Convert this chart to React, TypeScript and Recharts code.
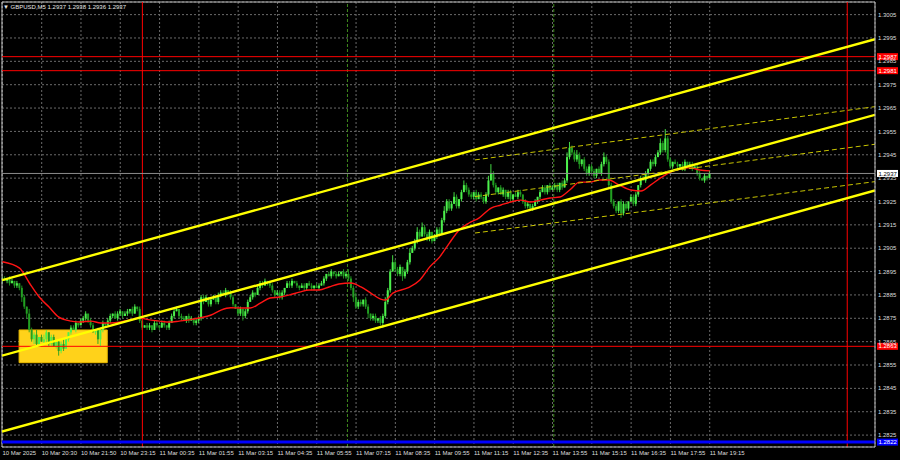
import {
  Bar,
  CartesianGrid,
  ComposedChart,
  Line,
  ReferenceArea,
  ReferenceLine,
  XAxis,
  YAxis,
} from "recharts";

// prices are kept in pips above 1.2800
const BASE = 1.28;

const firstOpen = 91;
const closes = [
  92, 91, 92, 90, 91, 89, 90, 88, 84, 80,
  77, 70, 66, 68, 64, 67, 65, 66, 69, 64,
  67, 63, 65, 61, 64, 62, 66, 69, 71, 70,
  73, 72, 74, 75, 77, 74, 72, 69, 70, 66,
  70, 73, 72, 74, 76, 77, 75, 77, 78, 76,
  77, 78, 79, 77, 80, 79, 74, 71, 72, 71,
  72, 70, 73, 72, 71, 73, 72, 71, 73, 76,
  78, 79, 76, 75, 74, 76, 74, 75, 73, 74,
  75, 84, 82, 84, 81, 83, 84, 82, 85, 86,
  85, 87, 86, 84, 81, 79, 77, 79, 76, 78,
  82, 84, 86, 85, 88, 90, 89, 91, 90, 89,
  87, 85, 86, 84, 86, 88, 90, 89, 91, 90,
  89, 88, 89, 88, 90, 89, 88, 89, 88, 89,
  90, 92, 94, 93, 95, 94, 93, 94, 95, 93,
  94, 92, 88, 84, 80, 82, 81, 83, 80, 77,
  75, 76, 74, 75, 73, 76, 82, 87, 95, 99,
  96, 94, 97, 93, 95, 99, 103, 105, 108, 112,
  110, 114, 111, 109, 112, 108, 110, 113, 111, 117,
  121, 125, 122, 124, 127, 123, 126, 129, 132, 130,
  128, 127, 129, 126, 128, 127, 125, 128, 134, 137,
  132, 129, 131, 128, 130, 127, 129, 126, 128, 127,
  129, 128, 125, 123, 124, 122, 123, 125, 127, 129,
  131, 129, 132, 130, 131, 132, 130, 133, 131, 134,
  144, 148, 146, 143, 145, 141, 143, 139, 137, 140,
  138, 136, 139, 137, 141, 144, 142, 132, 125, 123,
  121, 125, 120, 124, 122, 125, 127, 124, 128, 132,
  135, 134, 137, 139, 142, 141, 144, 146, 150, 147,
  152, 143, 140, 142, 141, 140, 141, 139, 142, 140,
  141, 139, 140, 137, 135, 134, 136, 135, 137,
];

const wickUp = [
  1, 1, 0, 1, 1, 0, 1, 0, 1, 1,
  0, 2, 1, 1, 2, 0, 1, 2, 1, 0,
  1, 1, 0, 1, 1, 2, 1, 0, 1, 1,
  1, 0, 1, 1, 1, 0, 1, 1, 0, 1,
  1, 1, 0, 1, 1, 0, 1, 1, 1, 0,
  1, 1, 0, 1, 1, 0, 1, 1, 0, 1,
  1, 0, 1, 1, 0, 1, 1, 0, 1, 1,
  1, 1, 0, 1, 1, 0, 1, 1, 0, 1,
  1, 1, 1, 1, 0, 1, 1, 0, 1, 1,
  1, 1, 0, 1, 1, 0, 1, 1, 0, 1,
  1, 1, 1, 0, 1, 1, 1, 1, 0, 1,
  1, 0, 1, 1, 1, 0, 1, 1, 1, 0,
  1, 0, 1, 1, 0, 1, 1, 0, 1, 1,
  1, 1, 0, 1, 1, 0, 1, 1, 0, 1,
  1, 2, 1, 1, 2, 1, 1, 0, 1, 1,
  0, 1, 1, 0, 1, 1, 2, 1, 1, 3,
  1, 1, 1, 0, 1, 1, 2, 1, 1, 2,
  1, 2, 1, 1, 1, 0, 1, 1, 1, 1,
  2, 1, 1, 1, 2, 1, 0, 1, 2, 1,
  1, 1, 0, 1, 1, 1, 0, 1, 2, 4,
  1, 1, 0, 1, 1, 0, 1, 1, 0, 1,
  1, 1, 0, 1, 1, 0, 1, 1, 0, 1,
  1, 1, 0, 1, 1, 1, 1, 0, 1, 1,
  2, 2.5, 1, 1, 2, 1, 0, 1, 1, 1,
  1, 1, 0, 1, 1, 2, 1, 1, 1, 1,
  1, 0, 1, 1, 1, 0, 1, 1, 1, 0,
  1, 1, 1, 0, 1, 1, 1, 1, 2, 1,
  4, 1, 1, 0, 1, 1, 0, 1, 1, 0,
  1, 1, 0, 1, 1, 0, 1, 0, 1,
];

const wickDown = [
  1, 0, 1, 1, 0, 1, 1, 1, 2, 1,
  2, 1, 1, 2, 1, 1, 0, 1, 2, 1,
  1, 0, 1, 2, 1, 1, 0, 1, 1, 0,
  1, 1, 0, 1, 1, 1, 1, 0, 1, 2,
  3, 1, 1, 0, 1, 1, 0, 1, 1, 1,
  0, 1, 1, 1, 0, 1, 1, 1, 0, 1,
  1, 1, 0, 1, 1, 0, 1, 1, 1, 0,
  1, 0, 1, 1, 0, 1, 1, 0, 1, 1,
  1, 1, 1, 0, 1, 1, 0, 1, 1, 1,
  0, 1, 1, 1, 1, 0, 1, 1, 2, 1,
  1, 0, 1, 1, 0, 1, 1, 0, 1, 1,
  1, 1, 0, 1, 1, 1, 0, 1, 1, 0,
  1, 1, 0, 1, 1, 0, 1, 1, 0, 1,
  0, 1, 1, 0, 1, 1, 1, 0, 1, 1,
  1, 1, 1, 2, 1, 1, 1, 1, 1, 2,
  1, 1, 1, 1, 1, 2, 1, 1, 1, 0,
  1, 1, 1, 2, 1, 1, 1, 0, 1, 1,
  1, 0, 1, 1, 1, 1, 0, 1, 1, 0,
  1, 1, 1, 1, 0, 1, 1, 1, 0, 1,
  1, 1, 1, 1, 0, 1, 1, 1, 1, 0,
  1, 1, 1, 0, 1, 1, 1, 1, 1, 0,
  1, 1, 1, 1, 1, 1, 1, 0, 1, 1,
  0, 1, 1, 1, 0, 1, 1, 1, 1, 0,
  1, 1, 1, 1, 1, 2, 1, 1, 1, 1,
  1, 1, 1, 0, 1, 1, 1, 1, 1, 1,
  1, 1, 2, 1, 1, 1, 0, 1, 1, 1,
  1, 0, 1, 1, 1, 1, 1, 0, 1, 1,
  1, 1, 1, 1, 0, 1, 1, 1, 1, 0,
  1, 1, 0, 1, 1, 0, 1, 1, 0,
];

// moving average at a few bars
const maBars = [
  0, 7, 11, 15, 19, 23, 28, 32, 36, 40, 44, 48, 52, 56, 60, 64, 68, 72, 76, 80,
  85, 89, 93, 97, 101, 105, 109, 113, 117, 121, 125, 129, 133, 137, 142, 146,
  150, 154, 156, 159, 165, 170, 174, 178, 182, 186, 190, 194, 199, 203, 207,
  211, 215, 219, 223, 227, 231, 235, 239, 243, 247, 251, 256, 260, 264, 268,
  272, 276, 280, 284, 288,
];
const maValues = [
  99.2, 96.5, 90.1, 84.1, 79.8, 75.5, 73.8, 73.4, 73.8, 73.0, 73.0, 73.4, 74.3,
  75.1, 74.3, 73.8, 73.4, 73.8, 74.3, 75.1, 76.4, 78.5, 79.5, 79.4, 79.4, 81.5,
  83.7, 84.1, 85.0, 86.2, 87.1, 87.1, 88.4, 89.7, 90.1, 88.4, 85.8, 83.2, 82.8,
  85.8, 88.0, 91.4, 97.0, 101.2, 107.2, 112.8, 115.8, 117.9, 122.2, 123.5,
  124.8, 125.6, 124.8, 125.6, 126.5, 126.9, 129.9, 133.3, 133.3, 134.2, 134.2,
  132.1, 129.9, 129.5, 132.1, 135.1, 137.6, 138.9, 139.4, 138.5, 138.1,
];

const timeLabels = [
  "10 Mar 2025", "10 Mar 20:30", "10 Mar 21:50", "10 Mar 23:15",
  "11 Mar 00:35", "11 Mar 01:55", "11 Mar 03:15", "11 Mar 04:35",
  "11 Mar 05:55", "11 Mar 07:15", "11 Mar 08:35", "11 Mar 09:55",
  "11 Mar 11:15", "11 Mar 12:35", "11 Mar 13:55", "11 Mar 15:15",
  "11 Mar 16:35", "11 Mar 17:55", "11 Mar 19:15",
];
const barsPerLabel = 16;
const priceTicks = [
  205, 195, 185, 175, 165, 155, 145, 135, 125, 115, 105, 95, 85, 75, 65, 55,
  45, 35, 25,
];

const redLevels = [187, 181, 63];
const blueLevel = 22;
const bidPrice = 137;
const dayBreaks = [57, 344];
const sessionOpens = [140.5, 224.5];

const xMin = -0.16;
const xMax = 355.3;
const yMin = 19.9;
const yMax = 210.4;

// trend channel: price at the left and right edge
const channelLeft = [91.3, 59.0, 26.5];
const channelRight = [194.5, 162.1, 129.7];
// regression channel
const regFrom = 192.4;
const regLeft = [142.8, 127.1, 111.5];
const regRight = [165.6, 149.5, 133.5];

const boxBars = [6.8, 42.7];
const boxPrices = [56, 70];

const FONT = "'Liberation Sans', Arial, sans-serif";
const fmt = (p: number) => (BASE + p / 10000).toFixed(4);

const rows = closes.map((c, i) => {
  const o = i === 0 ? firstOpen : closes[i - 1];
  const h = Math.max(o, c) + wickUp[i];
  const l = Math.min(o, c) - wickDown[i];
  const k = maBars.indexOf(i);
  return { i, o, c, h, l, range: [l, h], ma: k >= 0 ? maValues[k] : null };
});

function Candle(props: any) {
  const { x, y, width, height, payload } = props;
  if (!payload || x == null) return null;
  const { o, c, h, l } = payload;
  const top = Math.min(y, y + height);
  const ht = Math.abs(height);
  const cx = x + width / 2;
  const span = h - l || 1;
  const py = (v: number) => top + ((h - v) / span) * ht;
  const color = c >= o ? "#4cf04c" : "#22a022";
  const b1 = py(Math.max(o, c));
  const b2 = py(Math.min(o, c));
  return (
    <g>
      <line x1={cx} x2={cx} y1={top} y2={top + ht} stroke={color} strokeWidth={0.9} />
      <rect x={cx - 1} y={b1} width={2} height={Math.max(b2 - b1, 0.8)} fill={color} />
    </g>
  );
}

const tag = (price: number, bg: string, fg: string) => (props: any) => {
  const vb = props.viewBox || {};
  const x = (vb.x ?? 0) + (vb.width ?? 0) + 2;
  const y = vb.y ?? 0;
  return (
    <g>
      <rect x={x} y={y - 3.5} width={21} height={7} fill={bg} />
      <text x={x + 1.5} y={y + 2.1} fontSize={6} fill={fg} fontFamily={FONT}>
        {fmt(price)}
      </text>
    </g>
  );
};

function XTick(props: any) {
  const { x, y, payload } = props;
  const k = Math.round(payload.value / barsPerLabel);
  return (
    <text x={x} y={y + 8} fontSize={6} fill="#dedede" fontFamily={FONT} textAnchor="start">
      {timeLabels[k]}
    </text>
  );
}

function YTick(props: any) {
  const { x, y, payload } = props;
  return (
    <text x={x + 3} y={y + 2.1} fontSize={6} fill="#dedede" fontFamily={FONT} textAnchor="start">
      {fmt(payload.value)}
    </text>
  );
}

export default function App() {
  return (
    <div style={{ position: "fixed", left: 0, top: 0, width: 900, height: 460, background: "#000" }}>
      <ComposedChart
        width={900}
        height={460}
        data={rows}
        margin={{ top: 2, right: 0, bottom: 0, left: 2 }}
      >
        <CartesianGrid stroke="#6a6a6a" strokeDasharray="2 2" />
        <ReferenceArea
          x1={boxBars[0]}
          x2={boxBars[1]}
          y1={boxPrices[0]}
          y2={boxPrices[1]}
          fill="#ffd21a"
          fillOpacity={1}
          stroke="#e8b800"
        />
        <XAxis
          dataKey="i"
          type="number"
          domain={[xMin, xMax]}
          ticks={timeLabels.map((_, k) => k * barsPerLabel)}
          interval={0}
          allowDataOverflow
          height={13}
          tickSize={0}
          tickMargin={0}
          tickLine={false}
          axisLine={{ stroke: "#bdbdbd" }}
          tick={<XTick />}
        />
        <YAxis
          orientation="right"
          type="number"
          domain={[yMin, yMax]}
          ticks={priceTicks}
          interval={0}
          allowDataOverflow
          width={25}
          tickSize={0}
          tickMargin={0}
          tickLine={false}
          axisLine={{ stroke: "#bdbdbd" }}
          tick={<YTick />}
        />
        <ReferenceLine x={xMin} stroke="#bdbdbd" ifOverflow="visible" />
        <ReferenceLine y={yMax} stroke="#bdbdbd" ifOverflow="visible" />
        {dayBreaks.map((b) => (
          <ReferenceLine key={"d" + b} x={b} stroke="#ff0000" />
        ))}
        {sessionOpens.map((b) => (
          <ReferenceLine key={"s" + b} x={b} stroke="#3f8a1c" strokeDasharray="3 2" />
        ))}
        <ReferenceLine y={bidPrice} stroke="#8c8c8c" label={tag(bidPrice, "#ffffff", "#000000")} />
        {redLevels.map((p) => (
          <ReferenceLine key={"r" + p} y={p} stroke="#ff0000" label={tag(p, "#ff0000", "#ffffff")} />
        ))}
        <ReferenceLine y={blueLevel} stroke="#0000ff" strokeWidth={3} label={tag(blueLevel, "#0000ff", "#ffffff")} />
        <Bar dataKey="range" barSize={2} shape={<Candle />} isAnimationActive={false} />
        <Line
          dataKey="ma"
          type="monotone"
          connectNulls
          dot={false}
          stroke="#ff1414"
          strokeWidth={1.4}
          isAnimationActive={false}
        />
        {channelLeft.map((p, k) => (
          <ReferenceLine
            key={"c" + k}
            segment={[
              { x: xMin, y: p },
              { x: xMax, y: channelRight[k] },
            ]}
            stroke="#ffff00"
            strokeWidth={2.4}
            ifOverflow="hidden"
          />
        ))}
        {regLeft.map((p, k) => (
          <ReferenceLine
            key={"g" + k}
            segment={[
              { x: regFrom, y: p },
              { x: xMax, y: regRight[k] },
            ]}
            stroke="#c8c400"
            strokeWidth={1}
            strokeDasharray="5 3"
            ifOverflow="hidden"
          />
        ))}
      </ComposedChart>
      <svg width={300} height={16} style={{ position: "absolute", left: 0, top: 0 }}>
        <text x={3} y={9} fontSize={6} fill="#e6e6e6" fontFamily={FONT}>
          ▼ GBPUSD,M5  1.2937 1.2938 1.2936 1.2937
        </text>
      </svg>
    </div>
  );
}
